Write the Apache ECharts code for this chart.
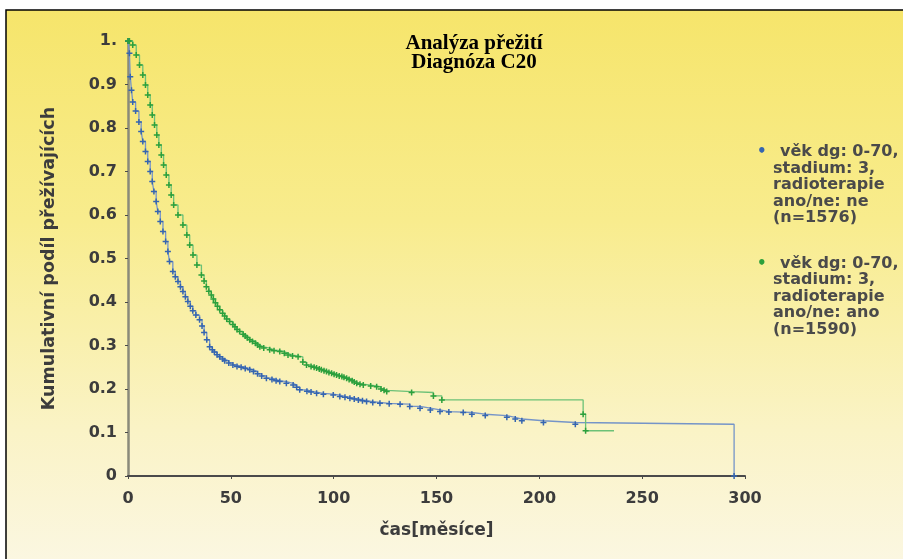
<!DOCTYPE html>
<html>
<head>
<meta charset="utf-8">
<title>Analýza přežití</title>
<script src="https://cdn.jsdelivr.net/npm/echarts@6/dist/echarts.min.js"></script>
<style>
	html, body { margin: 0; padding: 0; background: #fff; }
	#chart { width: 903px; height: 559px; }
</style>
</head>
<body>
<div id="chart"></div>
<script>
	// osa x - čas v měsících, osa y - kumulativní podíl přežívajících
	var xTicks = [0, 50, 100, 150, 200, 250, 300];
	var yTicks = [0, 0.1, 0.2, 0.3, 0.4, 0.5, 0.6, 0.7, 0.8, 0.9, 1];

	// radioterapie: ne (n=1576), modrá  [čas, podíl]
	var neData = [[0, 1], [0.7, 0.972], [1.1, 0.918], [1.7, 0.887], [2.3, 0.860], [3.7, 0.839], [5.3, 0.814], [6.4, 0.792], [7.2, 0.769], [8.5, 0.746], [9.6, 0.723], [10.8, 0.700], [11.8, 0.677], [12.6, 0.654], [13.7, 0.631], [14.5, 0.608], [15.7, 0.585], [17.0, 0.562], [18.3, 0.539], [19.4, 0.516], [20.2, 0.493], [21.8, 0.470], [23.0, 0.458], [24.3, 0.447], [25.5, 0.435], [26.7, 0.424], [27.9, 0.412], [29.1, 0.401], [30.3, 0.390], [31.5, 0.380], [33.0, 0.370], [34.8, 0.359], [36.0, 0.345], [37.0, 0.330], [38.3, 0.313], [39.7, 0.297], [41.0, 0.290], [42.0, 0.285], [43.3, 0.279], [44.6, 0.274], [46.0, 0.269], [47.0, 0.265], [49.0, 0.260], [51.0, 0.255], [53.0, 0.252], [55.0, 0.250], [57.0, 0.247], [59.2, 0.244], [61.0, 0.240], [63.0, 0.235], [65.0, 0.230], [67.3, 0.225], [70.0, 0.222], [72.0, 0.219], [73.8, 0.217], [77.0, 0.213], [80.3, 0.209], [82.0, 0.204], [83.5, 0.198], [87.0, 0.195], [89.0, 0.193], [91.7, 0.190], [95.0, 0.188], [99.8, 0.186], [103.0, 0.183], [105.5, 0.181], [107.9, 0.179], [110.0, 0.177], [112.0, 0.175], [114.0, 0.173], [116.0, 0.171], [119.0, 0.169], [122.5, 0.167], [127.0, 0.166], [132.3, 0.165], [137.0, 0.160], [142.0, 0.156], [147.0, 0.152], [151.7, 0.148], [156.0, 0.147], [163.0, 0.146], [167.2, 0.142], [173.7, 0.139], [184.2, 0.135], [188.3, 0.131], [191.5, 0.127], [202.0, 0.123], [217.5, 0.119], [294.7, 0]];

	// radioterapie: ano (n=1590), zelená  [čas, podíl]
	var anoData = [[0, 1], [0.7, 1.0], [2.3, 0.991], [4.0, 0.968], [5.6, 0.945], [7.2, 0.922], [8.5, 0.899], [9.6, 0.876], [10.8, 0.853], [11.8, 0.830], [12.9, 0.807], [14.0, 0.784], [15.0, 0.761], [16.2, 0.738], [17.3, 0.715], [18.6, 0.692], [19.9, 0.669], [21.0, 0.646], [22.2, 0.623], [24.3, 0.600], [26.7, 0.577], [28.6, 0.554], [30.0, 0.531], [31.6, 0.508], [33.5, 0.485], [35.7, 0.462], [37.0, 0.448], [38.1, 0.435], [39.3, 0.425], [40.5, 0.416], [41.5, 0.407], [42.5, 0.398], [43.5, 0.390], [44.6, 0.382], [46.0, 0.374], [47.0, 0.368], [48.0, 0.361], [49.4, 0.355], [51.0, 0.348], [52.0, 0.343], [53.0, 0.337], [54.3, 0.332], [56.0, 0.326], [57.0, 0.322], [58.0, 0.318], [59.2, 0.313], [60.5, 0.309], [62.0, 0.305], [63.0, 0.301], [64.1, 0.297], [66.0, 0.294], [68.9, 0.290], [71.0, 0.288], [73.8, 0.286], [76.0, 0.282], [77.8, 0.278], [80.0, 0.276], [82.7, 0.274], [85.0, 0.262], [86.8, 0.255], [89.0, 0.252], [90.5, 0.250], [91.7, 0.248], [93.0, 0.246], [94.0, 0.244], [95.3, 0.242], [96.5, 0.240], [97.7, 0.238], [99.0, 0.236], [100.2, 0.234], [101.4, 0.232], [102.7, 0.230], [104.0, 0.229], [105.0, 0.227], [106.3, 0.225], [107.5, 0.222], [109.0, 0.219], [110.0, 0.216], [111.2, 0.213], [112.8, 0.211], [114.4, 0.209], [118.0, 0.207], [120.9, 0.205], [123.0, 0.200], [124.5, 0.197], [125.8, 0.194], [137.9, 0.192], [148.5, 0.184], [152.6, 0.175], [221.3, 0.142], [222.5, 0.104], [236.3, 0.104]];

	var seriesNames = ['radioterapie: ne', 'radioterapie: ano'];
	var legendLines = [
		['věk dg: 0-70,', 'stadium: 3,', 'radioterapie', 'ano/ne: ne', '(n=1576)'],
		['věk dg: 0-70,', 'stadium: 3,', 'radioterapie', 'ano/ne: ano', '(n=1590)']
	];

	var plusSymbol = 'path://M3,0H5V3H8V5H5V8H3V5H0V3H3Z';

	// poslední bod zelené křivky je jen konec čáry (cenzurováno), bez značky
	function toPoints(list, lastBare) {
		return list.map(function (p, i) {
			var item = { value: p };
			if (lastBare && i === list.length - 1) {
				item.symbol = 'none';
			}
			return item;
		});
	}

	var myChart = echarts.init(document.getElementById('chart'));
	var option = {
		animation: false,
		graphic: [
			{
				type: 'rect',
				z: -10,
				shape: { x: 6, y: 10, width: 1000, height: 700 },
				style: {
					fill: new echarts.graphic.LinearGradient(0, 0, 0, 1, [
						{ offset: 0, color: '#f6e56b' },
						{ offset: 0.3, color: '#f8ec8d' },
						{ offset: 0.6, color: '#faf3c6' },
						{ offset: 0.8, color: '#fbf7e3' },
						{ offset: 1, color: '#fdfcf6' }
					]),
					stroke: '#000',
					lineWidth: 1.5
				}
			}
		],
		title: {
			text: 'Analýza přežití\nDiagnóza C20',
			left: 474,
			top: 34,
			padding: 0,
			textAlign: 'center',
			textStyle: {
				fontFamily: 'Liberation Serif',
				fontWeight: 'bold',
				fontSize: 21,
				lineHeight: 19,
				color: '#000'
			}
		},
		legend: {
			orient: 'vertical',
			left: 751,
			top: 144,
			padding: 0,
			itemWidth: 0,
			itemHeight: 0,
			itemGap: 29,
			selectedMode: false,
			data: seriesNames,
			formatter: function (name) {
				var idx = seriesNames.indexOf(name);
				var lines = legendLines[idx];
				var dot = idx === 0 ? 'b' : 'g';
				var txt = '{' + dot + '|•}' + lines[0];
				for (var i = 1; i < lines.length; i++) {
					txt += '\n{c|' + lines[i] + '}';
				}
				return txt;
			},
			textStyle: {
				fontFamily: 'DejaVu Sans',
				fontWeight: 'bold',
				fontSize: 16,
				lineHeight: 16.5,
				color: '#4a4a4a',
				rich: {
					b: { color: '#3565b0', width: 23, fontSize: 15, lineHeight: 16.5 },
					g: { color: '#2ca03c', width: 23, fontSize: 15, lineHeight: 16.5 },
					c: { padding: [0, 0, 0, 16], fontSize: 16, lineHeight: 16.5, fontWeight: 'bold', color: '#4a4a4a' }
				}
			}
		},
		grid: {
			left: 128,
			right: 158,
			top: 41,
			bottom: 83
		},
		xAxis: {
			type: 'value',
			min: xTicks[0],
			max: xTicks[xTicks.length - 1],
			interval: 50,
			name: 'čas[měsíce]',
			nameLocation: 'middle',
			nameGap: 46,
			nameTextStyle: {
				fontFamily: 'DejaVu Sans',
				fontWeight: 'bold',
				fontSize: 17,
				color: '#3c3c3c'
			},
			splitLine: { show: false },
			axisLine: { lineStyle: { color: '#4a4a4a', width: 2 } },
			axisTick: { length: 3, lineStyle: { color: '#4a4a4a' } },
			axisLabel: {
				margin: 15,
				fontFamily: 'DejaVu Sans',
				fontWeight: 'bold',
				fontSize: 16,
				color: '#3c3c3c'
			}
		},
		yAxis: {
			type: 'value',
			min: yTicks[0],
			max: yTicks[yTicks.length - 1],
			interval: 0.1,
			name: 'Kumulativní podíl přežívajících',
			nameLocation: 'middle',
			nameGap: 70,
			nameTextStyle: {
				fontFamily: 'DejaVu Sans',
				fontWeight: 'bold',
				fontSize: 17.5,
				color: '#3c3c3c'
			},
			splitLine: { show: false },
			axisLine: { lineStyle: { color: '#8a8a7a', width: 2.5 } },
			axisTick: { length: 3, lineStyle: { color: '#4a4a4a' } },
			axisLabel: {
				margin: 11,
				fontFamily: 'DejaVu Sans',
				fontWeight: 'bold',
				fontSize: 16,
				color: '#3c3c3c',
				formatter: function (value) {
					if (value === 1) return '1.';
					if (value === 0) return '0';
					return value.toFixed(1);
				}
			}
		},
		series: [
			{
				name: seriesNames[0],
				type: 'line',
				step: 'end',
				clip: false,
				data: toPoints(neData, false),
				symbol: plusSymbol,
				symbolSize: 6,
				showAllSymbol: true,
				lineStyle: { color: '#7594c8', width: 1.3 },
				itemStyle: { color: '#3565b0' }
			},
			{
				name: seriesNames[1],
				type: 'line',
				step: 'end',
				clip: false,
				data: toPoints(anoData, true),
				symbol: plusSymbol,
				symbolSize: 6,
				showAllSymbol: true,
				lineStyle: { color: '#6cc177', width: 1.3 },
				itemStyle: { color: '#2ca03c' }
			}
		]
	};
	myChart.setOption(option);
</script>
</body>
</html>
